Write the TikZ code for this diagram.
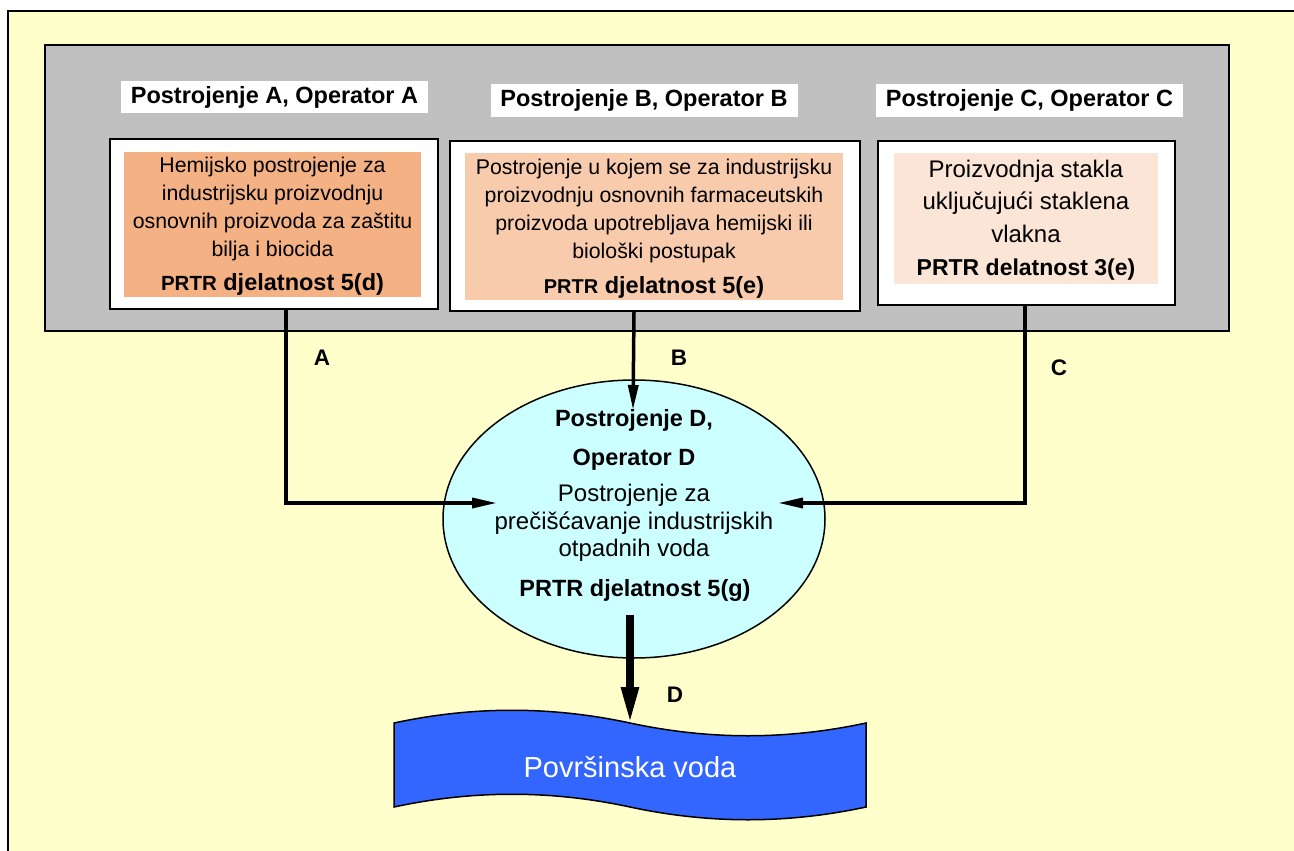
\documentclass[tikz,border=0pt]{standalone}
\usepackage{fontspec}
\setmainfont{Liberation Sans}
\usetikzlibrary{arrows.meta,shapes.geometric}
\definecolor{bgyellow}{HTML}{FFFFCC}
\definecolor{panelgray}{HTML}{C0C0C0}
\definecolor{fillA}{HTML}{F4B183}
\definecolor{fillB}{HTML}{F8CBAD}
\definecolor{fillC}{HTML}{FBE5D6}
\definecolor{plantcyan}{HTML}{CCFFFF}
\definecolor{water}{HTML}{3366FF}
\begin{document}
\begin{tikzpicture}[x=1pt,y=-1pt,
  titlebox/.style={fill=white, minimum width=307pt, minimum height=32pt, inner sep=0pt,
    font=\fontsize{23.5}{28}\selectfont\bfseries},
  outerbox/.style={draw=black, fill=white, line width=2pt, anchor=north west, inner sep=0pt},
  descA/.style={align=center, inner sep=0pt, font=\fontsize{21.3}{28}\selectfont},
  descC/.style={align=center, inner sep=0pt, font=\fontsize{24}{32.5}\selectfont},
  prtr/.style={inner sep=0pt, anchor=base, font=\fontsize{23.5}{28}\selectfont\bfseries},
  lbl/.style={inner sep=0pt, font=\fontsize{22.5}{26}\selectfont\bfseries},
  arr/.style={line width=3.5pt, -{Triangle[length=25pt,width=10pt]}},
  bigarr/.style={line width=8pt, -{Triangle[length=38pt,width=16pt]}},
]
\useasboundingbox (0,0) rectangle (1294,851);
\fill[white] (0,0) rectangle (1294,851);
\draw[fill=bgyellow, line width=1.5pt] (8,11) rectangle (1310,870);
\draw[fill=panelgray, line width=1.5pt] (45,45) rectangle (1229,331);

% titles
\node[titlebox] (titleA) at (274.5,97) {Postrojenje A, Operator A};
\node[titlebox] (titleB) at (644,100.5) {Postrojenje B, Operator B};
\node[titlebox] (titleC) at (1029.5,100.5) {Postrojenje C, Operator C};

% boxes
\node[outerbox, minimum width=328pt, minimum height=170pt] (boxA) at (109,138) {};
\node[outerbox, minimum width=410pt, minimum height=170pt] (boxB) at (449,140) {};
\node[outerbox, minimum width=297pt, minimum height=164pt] (boxC) at (877,140) {};
\fill[fillA] (124,152) rectangle (421,297);
\fill[fillB] (465,153) rectangle (843,300);
\fill[fillC] (894,153) rectangle (1158,284);

\node[descA] (txtA) at (272.5,209) {Hemijsko postrojenje za\\industrijsku proizvodnju\\osnovnih proizvoda za zaštitu\\bilja i biocida};
\node[prtr] (prA) at (272.5,290) {{\fontsize{20.5}{24}\selectfont PRTR} djelatnost 5(d)};

\node[descA] (txtB) at (654,211) {Postrojenje u kojem se za industrijsku\\proizvodnju osnovnih farmaceutskih\\proizvoda upotrebljava hemijski ili\\biološki postupak};
\node[prtr] (prB) at (654,293) {{\fontsize{20}{24}\selectfont PRTR} djelatnost 5(e)};

\node[descC] (txtC) at (1026,201) {Proizvodnja stakla\\uključujući staklena\\vlakna};
\node[prtr] (prC) at (1026,275) {\fontsize{23}{28}\selectfont PRTR delatnost 3(e)};

% plant D
\node[ellipse, draw=black, fill=plantcyan, line width=1.5pt, minimum width=382pt, minimum height=278pt, inner sep=0pt] (plantD) at (634,519) {};
\node[prtr] (dtitle1) at (634,426) {Postrojenje D,};
\node[prtr] (dtitle2) at (634,465) {Operator D};
\node[align=center, inner sep=0pt, font=\fontsize{24}{27.5}\selectfont] (txtD) at (634,523) {Postrojenje za\\prečišćavanje industrijskih\\otpadnih voda};
\node[prtr] (prD) at (635,596) {PRTR djelatnost 5(g)};

% surface water
\draw[fill=water, line width=1.5pt] (394,723) .. controls (473,706) and (551,706) .. (630,723)
  .. controls (709,740) and (787,740) .. (866,723) -- (866,807)
  .. controls (787,824) and (709,824) .. (630,807)
  .. controls (551,790) and (473,790) .. (394,807) -- cycle;
\node[text=white, inner sep=0pt, font=\fontsize{29}{34}\selectfont] (water) at (630,767) {Površinska voda};

% connectors
\coordinate (tipA) at (497,503);
\coordinate (tipB) at (633,410);
\coordinate (tipC) at (778,503);
\coordinate (startD) at (630,615);
\coordinate (tipD) at (630,725);
\draw[arr] ([xshift=12pt]boxA.south) |- (tipA);
\draw[arr] ([xshift=-21pt]boxB.south) -- (tipB);
\draw[arr] ([xshift=-1.5pt]boxC.south) |- (tipC);
\draw[bigarr] (startD) -- (tipD);

\node[lbl] (lblA) at (322,358) {A};
\node[lbl] (lblB) at (679,358) {B};
\node[lbl] (lblC) at (1059,368) {C};
\node[lbl] (lblD) at (675,695) {D};
\end{tikzpicture}
\end{document}
